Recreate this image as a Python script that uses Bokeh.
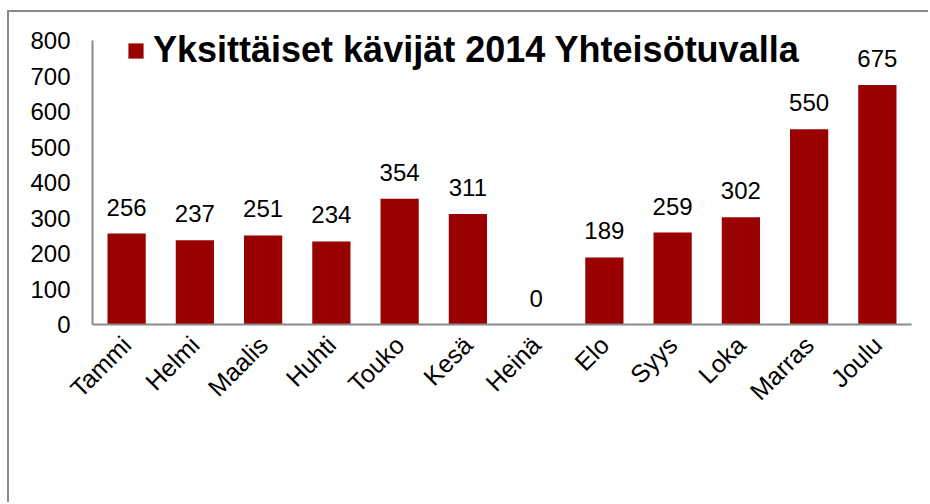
from math import pi
from bokeh.plotting import figure
from bokeh.models import (ColumnDataSource, Range1d, FixedTicker, Legend, LegendItem,
                          LabelSet)
from bokeh.core.properties import value
from bokeh.embed import file_html
from bokeh.resources import INLINE

months = ["Tammi", "Helmi", "Maalis", "Huhti", "Touko", "Kesä", "Heinä",
          "Elo", "Syys", "Loka", "Marras", "Joulu"]
visitors = [256, 237, 251, 234, 354, 311, 0, 189, 259, 302, 550, 675]
y_ticks = [0, 100, 200, 300, 400, 500, 600, 700, 800]
y_max = 800
series_name = "Yksittäiset kävijät 2014 Yhteisötuvalla"

FONT = "Liberation Sans"
BAR = "#990000"
GREY = "#8a8a8a"

src = ColumnDataSource(dict(month=months, visitors=visitors,
                            label=[str(v) for v in visitors]))

# frame: 296 px tall, of which the top 12 px are headroom above 800 for the legend
p = figure(x_range=months, y_range=Range1d(0, y_max * 296 / 284), width=921, height=492,
           output_backend="svg", toolbar_location=None,
           min_border_left=83, min_border_top=16, min_border_right=19,
           min_border_bottom=180)
p.x_range.range_padding = 0
p.styles = {"border-top": "2px solid " + GREY, "border-left": "2px solid " + GREY,
            "margin-top": "10px", "margin-left": "7px"}

r = p.vbar(x="month", top="visitors", width=0.56, source=src,
           fill_color=BAR, line_color=None)

labels = LabelSet(x="month", y="visitors", text="label", source=src,
                  text_align="center", text_baseline="alphabetic", y_offset=18,
                  text_font=value(FONT), text_font_size="24px", text_color="black")
p.add_layout(labels)

legend = Legend(items=[LegendItem(label=series_name, renderers=[r])],
                location=(34, 253), orientation="horizontal",
                glyph_width=19, glyph_height=19, label_standoff=8,
                label_text_font=FONT, label_text_font_size="36px",
                label_text_font_style="bold", label_text_color="black",
                border_line_color=None, background_fill_alpha=0,
                padding=0, margin=0)
p.add_layout(legend)

p.grid.visible = False
p.outline_line_color = None

p.yaxis.ticker = FixedTicker(ticks=y_ticks)
p.yaxis.bounds = (0, y_max)
p.yaxis.major_tick_line_color = None
p.yaxis.minor_tick_line_color = None
p.yaxis.major_tick_in = 0
p.yaxis.major_tick_out = 0
p.yaxis.major_label_standoff = 22
p.yaxis.axis_line_color = GREY
p.yaxis.axis_line_width = 2
p.yaxis.major_label_text_font = FONT
p.yaxis.major_label_text_font_size = "24px"
p.yaxis.major_label_text_color = "black"

p.xaxis.major_tick_line_color = None
p.xaxis.major_tick_in = 0
p.xaxis.major_tick_out = 0
p.xaxis.major_label_standoff = 16
p.xaxis.major_label_orientation = pi / 4
p.xaxis.axis_line_color = GREY
p.xaxis.axis_line_width = 2
p.xaxis.major_label_text_font = FONT
p.xaxis.major_label_text_font_size = "25px"
p.xaxis.major_label_text_color = "black"

open("out.html", "w").write(file_html(p, INLINE))
